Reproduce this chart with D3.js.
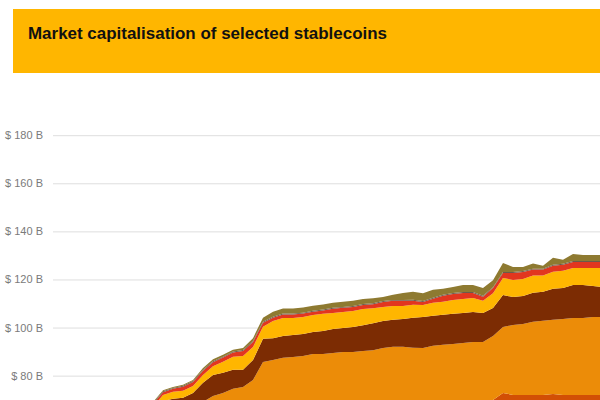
<!DOCTYPE html>
<html>
<head>
<meta charset="utf-8">
<script src="https://cdn.jsdelivr.net/npm/d3@7"></script>
<style>
  body { margin: 0; background: #fff; }
  svg { display: block; }
</style>
</head>
<body>
<svg id="chart" width="600" height="400"></svg>
<script>
// weekly snapshots
const dates = [
  '2020-09-07', '2020-09-14', '2020-09-21', '2020-09-28', '2020-10-05', '2020-10-12', '2020-10-19', '2020-10-26',
  '2020-11-02', '2020-11-09', '2020-11-16', '2020-11-23', '2020-11-30', '2020-12-07', '2020-12-14', '2020-12-21',
  '2020-12-28', '2021-01-04', '2021-01-11', '2021-01-18', '2021-01-25', '2021-02-01', '2021-02-08', '2021-02-15',
  '2021-02-22', '2021-03-01', '2021-03-08', '2021-03-15', '2021-03-22', '2021-03-29', '2021-04-05', '2021-04-12',
  '2021-04-19', '2021-04-26', '2021-05-03', '2021-05-10', '2021-05-17', '2021-05-24', '2021-05-31', '2021-06-07',
  '2021-06-14', '2021-06-21', '2021-06-28', '2021-07-05', '2021-07-12', '2021-07-19', '2021-07-26', '2021-08-02',
  '2021-08-09', '2021-08-16', '2021-08-23', '2021-08-30', '2021-09-06', '2021-09-13', '2021-09-20', '2021-09-27',
  '2021-10-04',
];

// market cap, $ billions (bottom of the stack first)
const tether = [
  15, 17, 20, 22, 25, 29, 34, 40, 46, 51,
  53.3, 57.4, 58.3, 59.1, 59.9, 61.2, 62.4, 63.2, 64.1, 64.5,
  64.9, 65.3, 65.7, 66.2, 66.6, 67.0, 67.4, 67.4, 67.8, 67.8,
  68.2, 68.2, 68.6, 68.6, 69.1, 69.1, 69.1, 69.5, 69.5, 69.5,
  69.5, 69.9, 69.9, 69.5, 69.9, 72.8, 72.0, 72.0, 72.0, 72.0,
  72.4, 72.0, 72.0, 72.0, 72.0, 72.0, 72.0,
];
const usdCoin = [
  2.8, 3.0, 3.2, 3.5, 3.9, 4.2, 4.6, 5.0, 5.5, 5.9,
  6.2, 6.2, 6.7, 6.7, 7.1, 7.9, 9.1, 9.6, 10.4, 10.8,
  13.3, 20.4, 20.8, 21.2, 21.2, 21.2, 21.6, 21.6, 21.6, 22.0,
  21.6, 22.0, 22.0, 22.9, 22.9, 22.9, 22.5, 22.0, 22.9, 23.3,
  23.7, 23.7, 24.1, 24.5, 26.6, 27.4, 29.1, 29.5, 30.4, 30.8,
  30.8, 31.6, 32.0, 32.0, 32.4, 32.4, 32.4,
];
const binanceUsd = [
  0.5, 0.7, 0.9, 1.2, 1.6, 2.0, 2.6, 3.4, 4.2, 5.0,
  5.4, 5.8, 5.4, 5.0, 5.8, 7.9, 8.8, 8.4, 8.0, 7.1,
  8.3, 9.6, 9.1, 9.1, 9.1, 9.1, 9.1, 9.6, 10.0, 10.0,
  10.4, 10.8, 11.2, 11.2, 11.2, 11.6, 12.5, 12.9, 12.5, 12.5,
  12.5, 12.5, 12.5, 12.1, 11.6, 13.3, 11.6, 11.6, 12.1, 12.1,
  12.9, 12.9, 13.7, 13.7, 12.9, 12.5, 12.5,
];
const dai = [
  0.8, 0.9, 1.0, 1.1, 1.3, 1.4, 1.6, 1.8, 1.9, 2.0,
  2.1, 2.5, 2.9, 2.9, 2.9, 3.3, 3.6, 4.6, 5.4, 5.8,
  5.4, 5.0, 7.1, 7.5, 7.1, 7.1, 7.1, 7.1, 6.7, 6.7,
  6.7, 6.7, 6.2, 5.8, 5.8, 5.4, 5.4, 5.0, 5.4, 5.4,
  5.8, 5.8, 5.8, 5.0, 6.2, 7.1, 7.1, 7.1, 7.1, 6.7,
  7.1, 7.1, 7.1, 7.1, 7.5, 7.9, 7.9,
];
const terraUsd = [
  0.2, 0.3, 0.3, 0.4, 0.5, 0.6, 0.7, 0.8, 1.0, 1.1,
  1.2, 1.2, 1.2, 1.7, 1.7, 1.7, 1.7, 1.7, 1.7, 2.1,
  2.1, 1.7, 1.4, 1.4, 1.4, 1.4, 1.4, 1.4, 1.7, 1.7,
  1.7, 1.7, 1.7, 2.1, 2.1, 2.1, 1.7, 1.2, 1.7, 2.5,
  2.5, 2.5, 2.1, 1.7, 2.1, 2.1, 2.9, 2.9, 2.5, 2.5,
  2.5, 2.5, 2.5, 2.5, 2.5, 2.5, 2.5,
];
const trueUsd = [
  0.2, 0.2, 0.2, 0.3, 0.3, 0.3, 0.3, 0.4, 0.4, 0.4,
  0.4, 0.4, 0.4, 0.4, 0.4, 0.4, 0.4, 0.4, 0.4, 0.4,
  0.4, 0.4, 0.4, 0.4, 0.4, 0.4, 0.4, 0.4, 0.4, 0.4,
  0.4, 0.4, 0.4, 0.4, 0.4, 0.4, 0.4, 0.4, 0.4, 0.4,
  0.4, 0.4, 0.4, 0.4, 0.4, 0.4, 0.4, 0.4, 0.4, 0.4,
  0.4, 0.4, 0.4, 0.4, 0.4, 0.4, 0.4,
];
const paxos = [
  0.1, 0.1, 0.1, 0.2, 0.2, 0.2, 0.3, 0.3, 0.3, 0.4,
  0.4, 0.4, 0.4, 0.4, 0.4, 0.8, 0.8, 0.8, 0.8, 0.8,
  1.2, 1.7, 2.1, 2.1, 2.1, 2.1, 2.1, 2.1, 2.1, 2.1,
  2.1, 2.1, 2.1, 1.7, 2.1, 2.9, 3.3, 3.3, 3.3, 2.5,
  2.5, 2.9, 2.9, 3.3, 2.9, 3.7, 2.1, 1.7, 2.1, 1.2,
  2.9, 1.7, 2.9, 2.5, 2.5, 2.5, 2.5,
];

const coins = ['Tether', 'USD Coin', 'Binance USD', 'Dai', 'TerraUSD', 'TrueUSD', 'Paxos'];
const coinValues = [tether, usdCoin, binanceUsd, dai, terraUsd, trueUsd, paxos];
const coinColors = ['#d24f05', '#ec8c08', '#7c2c03', '#ffb600', '#e2361f', '#6a5a4c', '#8e7a31'];

// only the upper ticks fall inside the visible crop
const yTicks = [80, 100, 120, 140, 160, 180];

const title = 'Market capitalisation of selected stablecoins';

const width = 600;

const parseDate = d3.timeParse('%Y-%m-%d');
const rows = dates.map((d, i) => {
  const row = { date: parseDate(d) };
  coins.forEach((c, j) => { row[c] = coinValues[j][i]; });
  return row;
});

const svg = d3.select('#chart');

// title band
svg.append('rect')
  .attr('x', 13)
  .attr('y', 9)
  .attr('width', width)
  .attr('height', 64)
  .attr('fill', '#ffb600');

svg.append('text')
  .attr('x', 28)
  .attr('y', 39)
  .attr('font-family', 'Liberation Sans, Arial, sans-serif')
  .attr('font-weight', 'bold')
  .attr('font-size', 17)
  .attr('textLength', 359)
  .attr('lengthAdjust', 'spacingAndGlyphs')
  .attr('fill', '#111')
  .text(title);

const x = d3.scaleTime()
  .domain(d3.extent(rows, (d) => d.date))
  .range([53, 53 + 10 * (rows.length - 1)]);

const y = d3.scaleLinear()
  .domain([0, 180])
  .range([568, 135.2]);

// gridlines + labels
const yAxis = d3.axisLeft(y)
  .tickValues(yTicks)
  .tickSize(-(width - 53))
  .tickPadding(10)
  .tickFormat((d) => `$ ${d} B`);

const axisG = svg.append('g')
  .attr('transform', 'translate(53,0)')
  .call(yAxis);
axisG.select('.domain').remove();
axisG.selectAll('.tick line')
  .attr('stroke', '#dedede')
  .attr('stroke-width', 1);
axisG.selectAll('.tick text')
  .attr('fill', '#7a7a7a')
  .attr('font-family', 'Liberation Sans, Arial, sans-serif')
  .attr('font-size', 11);

// stacked areas
const stack = d3.stack().keys(coins);
const series = stack(rows);

const area = d3.area()
  .x((d) => x(d.data.date))
  .y0((d) => y(d[0]))
  .y1((d) => y(d[1]));

svg.append('g')
  .selectAll('path')
  .data(series)
  .join('path')
  .attr('d', area)
  .attr('fill', (d, i) => coinColors[i]);
</script>
</body>
</html>
